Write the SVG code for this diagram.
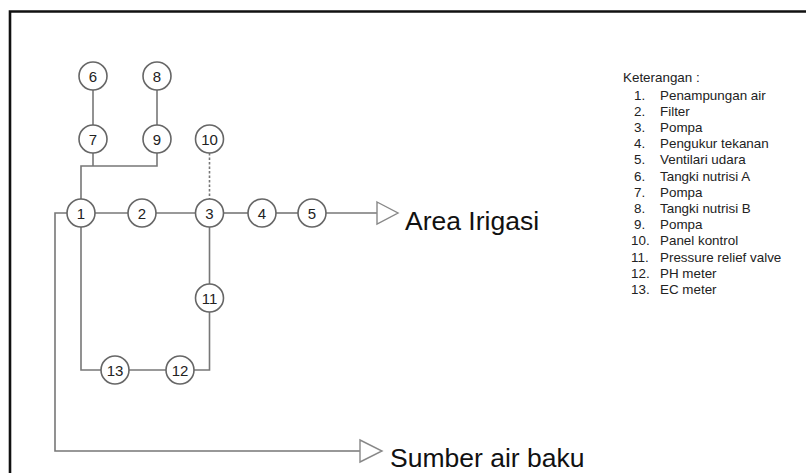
<svg xmlns="http://www.w3.org/2000/svg" width="806" height="473" viewBox="0 0 806 473">
  <style>
    .frame { stroke: #111; stroke-width: 2.6; fill: none; }
    .pipe { stroke: #777; stroke-width: 1.6; fill: none; }
    .signal { stroke: #777; stroke-width: 1.6; fill: none; stroke-dasharray: 2.5 2; }
    .head { stroke: #888; stroke-width: 1.4; fill: #fff; }
    .node circle { fill: #fff; stroke: #666; stroke-width: 1.6; }
    .node text { font-family: "Liberation Sans", Arial, sans-serif; font-size: 15px; fill: #222; text-anchor: middle; }
    .big { font-family: "Liberation Sans", Arial, sans-serif; font-size: 26.5px; fill: #111; }
    .legend { font-family: "Liberation Sans", Arial, sans-serif; font-size: 13.4px; fill: #222; }
  </style>

  <rect width="806" height="473" fill="#fff"/>

  <!-- page frame (top and left edges) -->
  <path class="frame" d="M10 473 V11.5 H806"/>

  <!-- pipes and signal lines -->
  <g id="connectors">
    <path class="pipe" d="M93 90 V125"/>
    <path class="pipe" d="M157 90 V125"/>
    <path class="pipe" d="M93 153 V166"/>
    <path class="pipe" d="M157 153 V166 H81 V199"/>
    <path class="pipe" d="M95 213 H128"/>
    <path class="pipe" d="M156 213 H195"/>
    <path class="pipe" d="M223.5 213 H248"/>
    <path class="pipe" d="M276 213 H298"/>
    <path class="pipe" d="M326 213 H377"/>
    <polygon class="head" points="377,202 398,213 377,224"/>
    <path class="signal" d="M209.5 153 V199"/>
    <path class="pipe" d="M209.5 227 V284"/>
    <path class="pipe" d="M209.5 312 V370 H194"/>
    <path class="pipe" d="M166 370 H129"/>
    <path class="pipe" d="M101 370 H81 V227"/>
    <path class="pipe" d="M67 213 H55 V451 H360"/>
    <polygon class="head" points="360,440 382,451 360,462"/>
  </g>

  <!-- components -->
  <g id="n1" class="node"><circle cx="81" cy="213" r="14"/><text x="81" y="218.5">1</text></g>
  <g id="n2" class="node"><circle cx="142" cy="213" r="14"/><text x="142" y="218.5">2</text></g>
  <g id="n3" class="node"><circle cx="209.5" cy="213" r="14"/><text x="209.5" y="218.5">3</text></g>
  <g id="n4" class="node"><circle cx="262" cy="213" r="14"/><text x="262" y="218.5">4</text></g>
  <g id="n5" class="node"><circle cx="312" cy="213" r="14"/><text x="312" y="218.5">5</text></g>
  <g id="n6" class="node"><circle cx="93" cy="76" r="14"/><text x="93" y="81.5">6</text></g>
  <g id="n7" class="node"><circle cx="93" cy="139" r="14"/><text x="93" y="144.5">7</text></g>
  <g id="n8" class="node"><circle cx="157" cy="76" r="14"/><text x="157" y="81.5">8</text></g>
  <g id="n9" class="node"><circle cx="157" cy="139" r="14"/><text x="157" y="144.5">9</text></g>
  <g id="n10" class="node"><circle cx="209.5" cy="139" r="14"/><text x="209.5" y="144.5">10</text></g>
  <g id="n11" class="node"><circle cx="209.5" cy="298" r="14"/><text x="209.5" y="303.5">11</text></g>
  <g id="n12" class="node"><circle cx="180" cy="370" r="14"/><text x="180" y="375.5">12</text></g>
  <g id="n13" class="node"><circle cx="115" cy="370" r="14"/><text x="115" y="375.5">13</text></g>

  <!-- outlet / inlet labels -->
  <text class="big" x="405" y="230">Area Irigasi</text>
  <text class="big" x="390" y="467">Sumber air baku</text>

  <!-- key -->
  <g id="legend" class="legend">
    <text x="623" y="81.5">Keterangan :</text>
    <text x="634" y="99.5">1.</text><text x="660" y="99.5">Penampungan air</text>
    <text x="634" y="115.7">2.</text><text x="660" y="115.7">Filter</text>
    <text x="634" y="131.9">3.</text><text x="660" y="131.9">Pompa</text>
    <text x="634" y="148.1">4.</text><text x="660" y="148.1">Pengukur tekanan</text>
    <text x="634" y="164.3">5.</text><text x="660" y="164.3">Ventilari udara</text>
    <text x="634" y="180.5">6.</text><text x="660" y="180.5">Tangki nutrisi A</text>
    <text x="634" y="196.7">7.</text><text x="660" y="196.7">Pompa</text>
    <text x="634" y="212.9">8.</text><text x="660" y="212.9">Tangki nutrisi B</text>
    <text x="634" y="229.1">9.</text><text x="660" y="229.1">Pompa</text>
    <text x="631" y="245.3">10.</text><text x="660" y="245.3">Panel kontrol</text>
    <text x="631" y="261.5">11.</text><text x="660" y="261.5">Pressure relief valve</text>
    <text x="631" y="277.7">12.</text><text x="660" y="277.7">PH meter</text>
    <text x="631" y="293.9">13.</text><text x="660" y="293.9">EC meter</text>
  </g>
</svg>
